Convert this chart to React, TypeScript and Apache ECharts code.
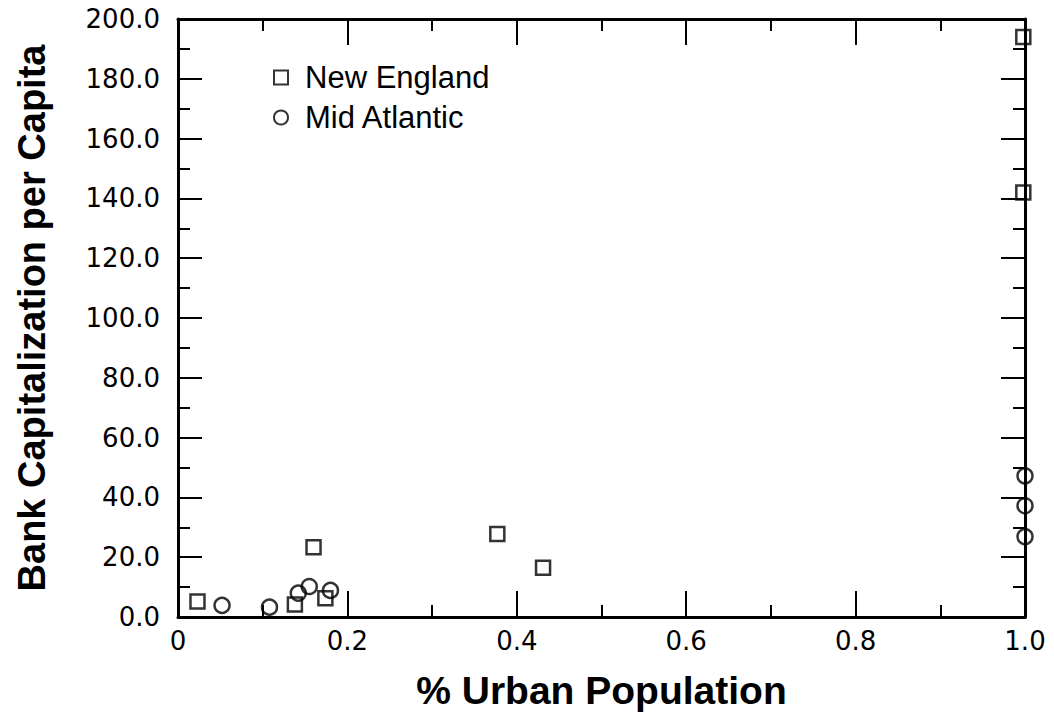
import React, { useEffect, useRef } from "react";
import * as echarts from "echarts";

const newEnglandX = [0.023, 0.138, 0.160, 0.174, 0.377, 0.431, 0.998, 0.998];
const newEnglandY = [5.2, 4.2, 23.3, 6.3, 27.8, 16.5, 194.0, 142.0];

const midAtlanticX = [0.052, 0.108, 0.142, 0.155, 0.180, 1.0, 1.0, 1.0];
const midAtlanticY = [3.9, 3.3, 8.0, 10.2, 8.9, 47.2, 37.2, 26.9];

const seriesNames = ["New England", "Mid Atlantic"];
const xTickValues = [0, 0.2, 0.4, 0.6, 0.8, 1.0];
const xTickLabels = ["0", "0.2", "0.4", "0.6", "0.8", "1.0"];
const yTickLabels = ["0.0", "20.0", "40.0", "60.0", "80.0", "100.0", "120.0", "140.0", "160.0", "180.0", "200.0"];

const xTitle = "% Urban Population";
const yTitle = "Bank Capitalization per Capita";

const labelFont = "DejaVu Sans";
const titleFont = "Liberation Sans";

function toPairs(xs: number[], ys: number[]) {
  return xs.map((x, i) => [x, ys[i]]);
}

function xLabel(v: number) {
  const idx = xTickValues.findIndex((t) => Math.abs(t - v) < 1e-6);
  return idx >= 0 ? xTickLabels[idx] : "";
}

function yLabel(v: number) {
  const idx = Math.round(v / 20);
  return yTickLabels[idx] ?? "";
}

export default function App() {
  const ref = useRef<HTMLDivElement>(null);

  useEffect(() => {
    if (!ref.current) return;
    const chart = echarts.init(ref.current, null, { renderer: "svg" });

    const axisLine = { show: true, onZero: false, lineStyle: { color: "#000", width: 3 } };
    const xTick = { show: true, inside: true, length: 26, lineStyle: { color: "#000", width: 2 } };
    const yTick = { show: true, inside: true, length: 24, lineStyle: { color: "#000", width: 2 } };
    const minor = { show: true, splitNumber: 2, length: 12, lineStyle: { color: "#000", width: 2 } };

    const markerStyle = {
      color: "rgba(255,255,255,0)",
      borderColor: "#000",
      borderWidth: 2.5,
    };

    chart.setOption({
      animation: false,
      backgroundColor: "#fff",
      grid: { left: 178, right: 29, top: 19, bottom: 96, containLabel: false },
      legend: {
        orient: "vertical",
        left: 273,
        top: 62,
        padding: 0,
        itemWidth: 14,
        itemHeight: 14,
        itemGap: 9,
        selectedMode: false,
        textStyle: {
          fontFamily: titleFont,
          fontSize: 31,
          color: "#000",
          padding: [0, 0, 0, 12],
        },
        data: [
          { name: seriesNames[0], icon: "rect", itemStyle: { ...markerStyle, borderWidth: 2 } },
          { name: seriesNames[1], icon: "circle", itemStyle: { ...markerStyle, borderWidth: 2 } },
        ],
      },
      xAxis: [
        {
          type: "value",
          min: 0,
          max: 1,
          interval: 0.2,
          position: "bottom",
          axisLine,
          axisTick: xTick,
          minorTick: minor,
          splitLine: { show: false },
          axisLabel: {
            show: true,
            margin: 11,
            fontFamily: labelFont,
            fontSize: 26,
            color: "#000",
            formatter: (v: number) => xLabel(v),
          },
          name: xTitle,
          nameLocation: "middle",
          nameGap: 54,
          nameTextStyle: {
            fontFamily: titleFont,
            fontWeight: "bold",
            fontSize: 39,
            color: "#000",
          },
        },
        {
          type: "value",
          min: 0,
          max: 1,
          interval: 0.2,
          position: "top",
          axisLine,
          axisTick: xTick,
          minorTick: minor,
          splitLine: { show: false },
          axisLabel: { show: false },
        },
      ],
      yAxis: [
        {
          type: "value",
          min: 0,
          max: 200,
          interval: 20,
          position: "left",
          axisLine,
          axisTick: yTick,
          minorTick: minor,
          splitLine: { show: false },
          axisLabel: {
            show: true,
            margin: 18,
            fontFamily: labelFont,
            fontSize: 26,
            color: "#000",
            formatter: (v: number) => yLabel(v),
          },
          name: yTitle,
          nameLocation: "middle",
          nameGap: 127,
          nameTextStyle: {
            fontFamily: titleFont,
            fontWeight: "bold",
            fontSize: 38,
            color: "#000",
          },
        },
        {
          type: "value",
          min: 0,
          max: 200,
          interval: 20,
          position: "right",
          axisLine,
          axisTick: yTick,
          minorTick: minor,
          splitLine: { show: false },
          axisLabel: { show: false },
        },
      ],
      series: [
        {
          name: seriesNames[0],
          type: "scatter",
          xAxisIndex: 0,
          yAxisIndex: 0,
          symbol: "rect",
          symbolSize: 14,
          clip: false,
          itemStyle: markerStyle,
          data: toPairs(newEnglandX, newEnglandY),
        },
        {
          name: seriesNames[1],
          type: "scatter",
          xAxisIndex: 0,
          yAxisIndex: 0,
          symbol: "circle",
          symbolSize: 15,
          clip: false,
          itemStyle: markerStyle,
          data: toPairs(midAtlanticX, midAtlanticY),
        },
      ],
    });

    return () => chart.dispose();
  }, []);

  return <div ref={ref} style={{ width: 1054, height: 715, marginLeft: -8, marginTop: -8 }} />;
}
